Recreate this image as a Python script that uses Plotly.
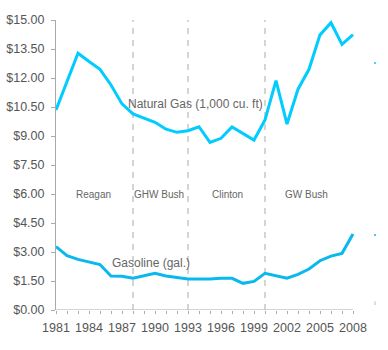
import plotly.graph_objects as go

years = list(range(1981, 2009))
natural_gas = [10.35, 11.81, 13.28, 12.85, 12.45, 11.64, 10.66, 10.14, 9.91, 9.71,
               9.35, 9.19, 9.27, 9.48, 8.67, 8.88, 9.47, 9.14, 8.79, 9.83,
               11.86, 9.62, 11.42, 12.45, 14.23, 14.86, 13.74, 14.24]
gasoline = [3.28, 2.81, 2.62, 2.47, 2.35, 1.76, 1.74, 1.64, 1.76, 1.90,
            1.76, 1.69, 1.60, 1.60, 1.60, 1.64, 1.64, 1.38, 1.48, 1.90,
            1.76, 1.64, 1.84, 2.12, 2.55, 2.79, 2.93, 3.93]
extra_year = [2010]
extra_gas = [12.78]
extra_gasoline = [3.88]

term_boundaries = [1988, 1993, 2000]
presidents = ["Reagan", "GHW Bush", "Clinton", "GW Bush"]
president_x = [1984.4, 1990.4, 1996.6, 2003.8]
president_y = 6.0

series_labels = ["Natural Gas (1,000 cu. ft)", "Gasoline (gal.)"]
series_label_x = [1993.7, 1989.6]
series_label_y = [10.65, 2.43]

tick_years = list(range(1981, 2009))
tick_text = [str(y) if (y - 1981) % 3 == 0 else "" for y in tick_years]

GAS_COLOR = "#00CCFF"
GASOLINE_COLOR = "#0BB8EE"
FONT = "Liberation Sans, Arial, sans-serif"

fig = go.Figure()
fig.add_trace(go.Scatter(x=years, y=natural_gas, mode="lines",
                         line=dict(color=GAS_COLOR, width=3), hoverinfo="skip"))
fig.add_trace(go.Scatter(x=years, y=gasoline, mode="lines",
                         line=dict(color=GASOLINE_COLOR, width=3), hoverinfo="skip"))
fig.add_trace(go.Scatter(x=extra_year, y=extra_gas, mode="markers",
                         marker=dict(color=GAS_COLOR, size=2), hoverinfo="skip"))
fig.add_trace(go.Scatter(x=extra_year, y=extra_gasoline, mode="markers",
                         marker=dict(color=GASOLINE_COLOR, size=2), hoverinfo="skip"))

shapes = []
for b in term_boundaries:
    shapes.append(dict(type="line", xref="x", yref="y", x0=b, x1=b, y0=0, y1=15.1,
                       line=dict(color="#AAAAAA", width=1, dash="6px,6px"), layer="below"))
shapes.append(dict(type="line", xref="x", yref="y", x0=years[0], x1=years[-1], y0=0, y1=0,
                   line=dict(color="#AAAAAA", width=1)))
shapes.append(dict(type="line", xref="x", yref="y", x0=extra_year[0], x1=extra_year[0],
                   y0=0.26, y1=0.45, line=dict(color="#BBBBBB", width=1)))

annotations = []
for name, px in zip(presidents, president_x):
    annotations.append(dict(x=px, y=president_y, xref="x", yref="y", text=name,
                            showarrow=False, font=dict(family=FONT, size=10, color="#666666")))
for name, lx, ly in zip(series_labels, series_label_x, series_label_y):
    annotations.append(dict(x=lx, y=ly, xref="x", yref="y", text=name,
                            showarrow=False, font=dict(family=FONT, size=12, color="#666666")))

fig.update_layout(
    width=388, height=350,
    margin=dict(l=56, r=2, t=20, b=40),
    paper_bgcolor="white", plot_bgcolor="white",
    showlegend=False,
    font=dict(family=FONT, size=12, color="#555555"),
    shapes=shapes, annotations=annotations,
    xaxis=dict(range=[1981, 2011], tickvals=tick_years, ticktext=tick_text,
               showline=False, showgrid=False, zeroline=False,
               ticks="outside", ticklen=3, tickcolor="#AAAAAA",
               ticklabelstandoff=3,
               tickfont=dict(size=12.5, color="#555555")),
    yaxis=dict(range=[0, 15], tick0=0, dtick=1.5, tickprefix="$", tickformat=".2f",
               showline=True, linecolor="#AAAAAA", linewidth=1,
               showgrid=False, zeroline=False,
               ticks="outside", ticklen=4, tickcolor="#AAAAAA",
               ticklabelstandoff=4,
               tickfont=dict(size=12.5, color="#555555")),
)

fig.write_html("out.html")
